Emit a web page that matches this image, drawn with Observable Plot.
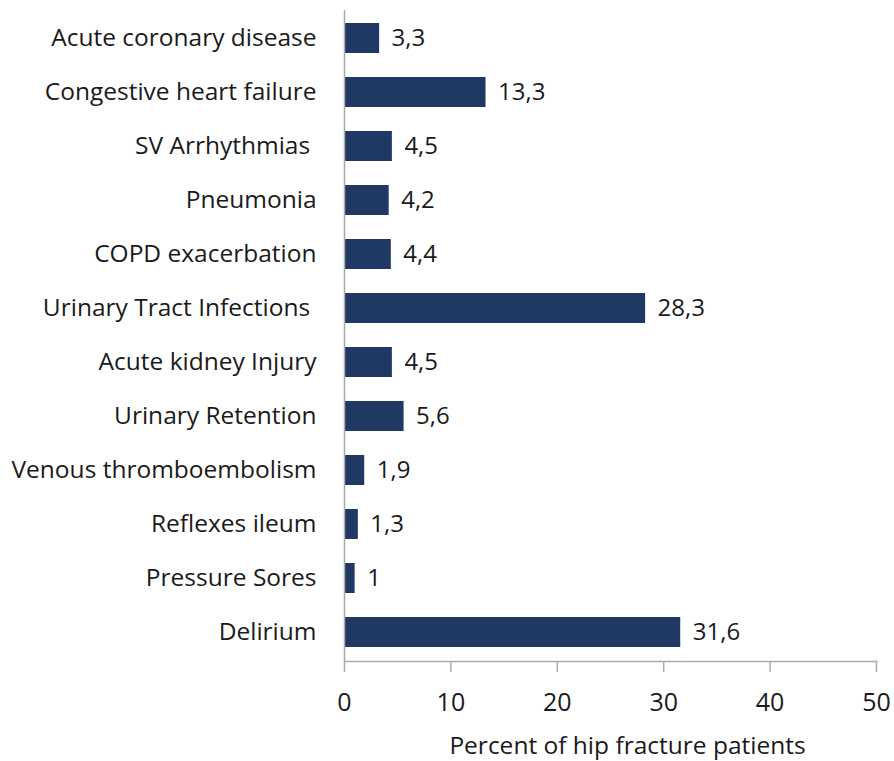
<!DOCTYPE html>
<html>
<head>
<meta charset="utf-8">
<script src="https://cdn.jsdelivr.net/npm/d3@7"></script>
<script src="https://cdn.jsdelivr.net/npm/@observablehq/plot@0.6"></script>
<style>
  html, body { margin: 0; padding: 0; background: #fff; }
  svg text { white-space: pre; }
</style>
</head>
<body>
<div id="chart"></div>
<script>
const categories = [
  "Acute coronary disease",
  "Congestive heart failure",
  "SV Arrhythmias\u00a0",
  "Pneumonia",
  "COPD exacerbation",
  "Urinary Tract Infections\u00a0",
  "Acute kidney Injury",
  "Urinary Retention",
  "Venous thromboembolism",
  "Reflexes ileum",
  "Pressure Sores",
  "Delirium"
];
const values = [3.3, 13.3, 4.5, 4.2, 4.4, 28.3, 4.5, 5.6, 1.9, 1.3, 1, 31.6];
const xTicks = [0, 10, 20, 30, 40, 50];
const xLabel = "Percent of hip fracture patients";

const data = categories.map((c, i) => ({
  cat: c,
  value: values[i],
  label: String(values[i]).replace(".", ",")
}));

const chart = Plot.plot({
  width: 894,
  height: 761,
  marginLeft: 344,
  marginRight: 18,
  marginTop: 10,
  marginBottom: 100,
  style: { fontFamily: "Open Sans, sans-serif", background: "#fff", color: "#1a1a1a" },
  x: { domain: [0, 50], ticks: xTicks },
  y: { domain: categories, paddingInner: 0.44, paddingOuter: 0.22 },
  marks: [
    Plot.barX(data, { x: "value", y: "cat", fill: "#1f3864" }),
    Plot.text(data, { x: "value", y: "cat", text: "label", dx: 12, textAnchor: "start", fontSize: 24, fill: "#1a1a1a" }),
    Plot.ruleX([0], { stroke: "#aaa", strokeWidth: 1.5 }),
    Plot.frame({ anchor: "bottom", stroke: "#aaa", strokeWidth: 1.5 }),
    Plot.axisX({ ticks: xTicks, tickSize: 11, tickPadding: 21, fontSize: 25, stroke: "#aaa", strokeWidth: 1.5, fill: "#1a1a1a", label: null }),
    Plot.axisY({ tickSize: 0, tickPadding: 28, fontSize: 24.5, fill: "#1a1a1a", label: null }),
    Plot.text([xLabel], { frameAnchor: "bottom", dy: 92, dx: 17, fontSize: 24.5, fill: "#1a1a1a" })
  ]
});
document.getElementById("chart").append(chart);
</script>
</body>
</html>
